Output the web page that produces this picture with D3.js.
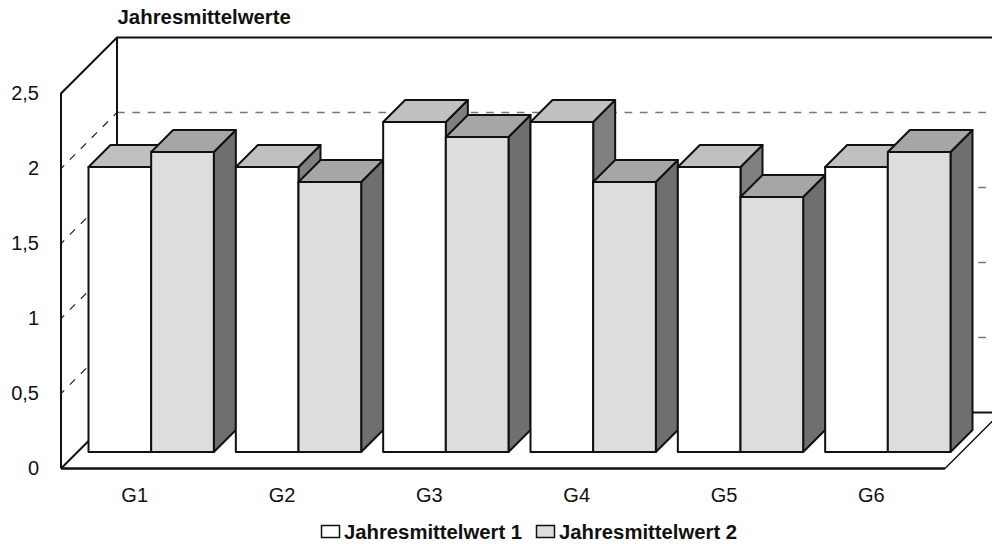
<!DOCTYPE html>
<html>
<head>
<meta charset="utf-8">
<script src="https://cdn.jsdelivr.net/npm/d3@7"></script>
<style>
  html, body { margin: 0; padding: 0; background: #fff; }
  svg { display: block; }
  text { font-family: "Liberation Sans", Arial, sans-serif; fill: #111; }
</style>
</head>
<body>
<svg id="chart" width="992" height="544"></svg>
<script>
const categories = ["G1", "G2", "G3", "G4", "G5", "G6"];
const seriesNames = ["Jahresmittelwert 1", "Jahresmittelwert 2"];
const series1 = [1.9, 1.9, 2.2, 2.2, 1.9, 1.9];
const series2 = [2.0, 1.8, 2.1, 1.8, 1.7, 2.0];
const yTicks = [0, 0.5, 1, 1.5, 2, 2.5];
const title = "Jahresmittelwerte";

const left = 61, right = 945, baseY = 468.5, topY = 93.5;
const wallDepth = 56;   // floor depth of the 3d box
const barInset = 16.5;  // bars stand this far back from the front edge
const barDepth = 22;

const fills = [
  { front: "#ffffff", top: "#c0c0c0", side: "#808080" },
  { front: "#dddddd", top: "#a6a6a6", side: "#6f6f6f" },
];

const svg = d3.select("#chart");

const x = d3.scaleBand().domain(categories).range([left, right]);
const y = d3.scaleLinear().domain([0, 2.5]).range([baseY, topY]);
const inner = d3.scaleBand().domain([0, 1])
  .range([barDepth / 2, x.bandwidth() - barDepth / 2]);

const ink = "#111";

// walls and gridlines
const grid = svg.append("g");
yTicks.filter((d) => d > 0).forEach((d) => {
  grid.append("line")
    .attr("x1", left).attr("y1", y(d))
    .attr("x2", left + wallDepth).attr("y2", y(d) - wallDepth)
    .attr("stroke", "#222").attr("stroke-width", 1.2)
    .attr("stroke-dasharray", "7.5 8")
    .attr("stroke-dashoffset", 3);
});
yTicks.filter((d) => d > 0 && d < 2.5).forEach((d) => {
  grid.append("line")
    .attr("x1", left + wallDepth).attr("y1", y(d) - wallDepth)
    .attr("x2", 986).attr("y2", y(d) - wallDepth)
    .attr("stroke", "#777").attr("stroke-width", 1.6)
    .attr("stroke-dasharray", "7.69 7.69");
});

const wall = svg.append("g").attr("fill", "none").attr("stroke", ink);
wall.append("path").attr("stroke-width", 2)
  .attr("d", d3.line()([
    [left, baseY], [left, topY], [left + wallDepth, topY - wallDepth], [992, topY - wallDepth],
  ]));
wall.append("path").attr("stroke-width", 2)
  .attr("d", d3.line()([
    [left + wallDepth, topY - wallDepth], [left + wallDepth, baseY - wallDepth],
  ]));
wall.append("path").attr("stroke-width", 2)
  .attr("d", d3.line()([
    [left + wallDepth, baseY - wallDepth], [992, baseY - wallDepth],
  ]));
wall.append("path").attr("stroke-width", 2)
  .attr("d", d3.line()([
    [left, baseY], [left + wallDepth, baseY - wallDepth],
  ]));
wall.append("path").attr("stroke-width", 1.5)
  .attr("d", d3.line()([
    [right, baseY], [right + wallDepth, baseY - wallDepth],
  ]));
wall.append("path").attr("stroke-width", 2.5)
  .attr("d", d3.line()([[left, baseY], [right, baseY]]));

// bars, back to front is just left to right here
const bars = svg.append("g").attr("stroke", ink).attr("stroke-width", 2).attr("stroke-linejoin", "round");
categories.forEach((cat, i) => {
  [series1[i], series2[i]].forEach((value, s) => {
    const x0 = x(cat) + barInset + inner(s);
    const x1 = x0 + inner.bandwidth();
    const yBottom = y(0) - barInset;
    const yTop = y(value) - barInset;
    const d = barDepth;
    const c = fills[s];

    bars.append("path").attr("fill", c.side)
      .attr("d", d3.line()([[x1, yTop], [x1 + d, yTop - d], [x1 + d, yBottom - d], [x1, yBottom]]) + "Z");
    bars.append("path").attr("fill", c.top)
      .attr("d", d3.line()([[x0, yTop], [x0 + d, yTop - d], [x1 + d, yTop - d], [x1, yTop]]) + "Z");
    bars.append("rect").attr("fill", c.front)
      .attr("x", x0).attr("y", yTop)
      .attr("width", x1 - x0).attr("height", yBottom - yTop);
  });
});

// axes, labels only
const yAxis = svg.append("g")
  .attr("transform", `translate(${left},0)`)
  .call(d3.axisLeft(y).tickValues(yTicks).tickSize(0).tickPadding(22)
    .tickFormat((d) => String(d).replace(".", ",")));
yAxis.select(".domain").remove();
yAxis.attr("font-family", null).attr("font-size", 20);

const xAxis = svg.append("g")
  .attr("transform", `translate(0,${baseY})`)
  .call(d3.axisBottom(x).tickSize(0).tickPadding(19));
xAxis.select(".domain").remove();
xAxis.attr("font-family", null).attr("font-size", 20);

svg.append("text")
  .attr("x", 117.5).attr("y", 24)
  .attr("font-size", 20.4).attr("font-weight", "bold")
  .text(title);

// legend
const legendX = [321.5, 536.5];
seriesNames.forEach((name, s) => {
  svg.append("rect")
    .attr("x", legendX[s]).attr("y", 525.5)
    .attr("width", 18).attr("height", 12)
    .attr("fill", fills[s].front).attr("stroke", ink).attr("stroke-width", 1.5);
  svg.append("text")
    .attr("x", legendX[s] + 22.5).attr("y", 538.5)
    .attr("font-size", 20.3).attr("font-weight", "bold")
    .text(name);
});
</script>
</body>
</html>
